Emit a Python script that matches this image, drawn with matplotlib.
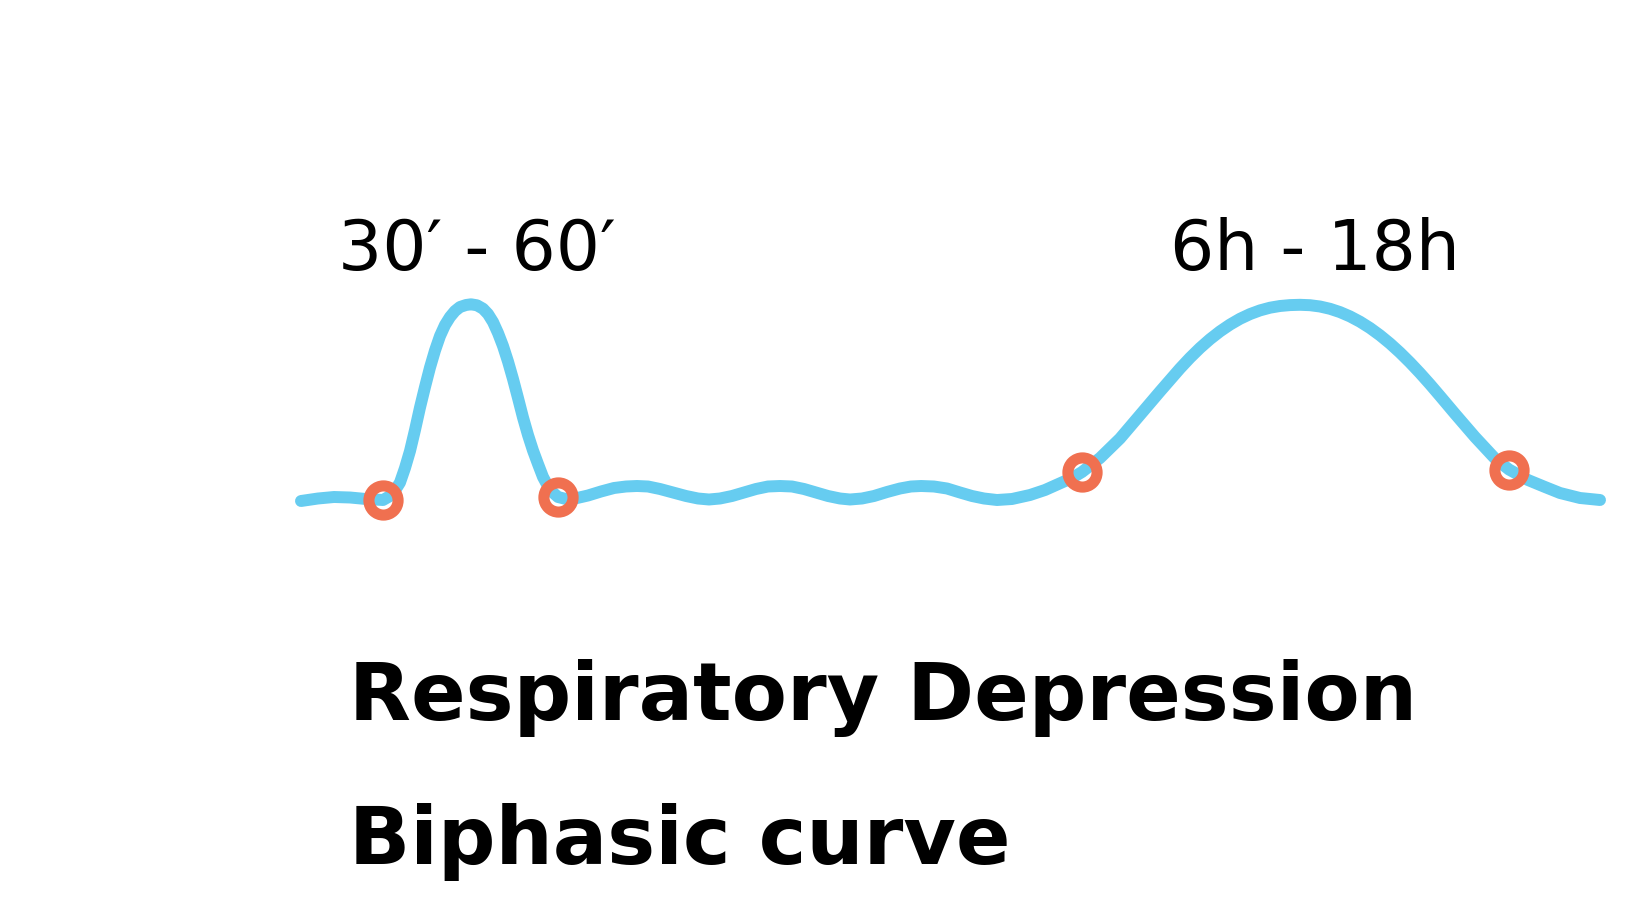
import matplotlib
matplotlib.use("Agg")
import matplotlib.pyplot as plt

# schematic time axis (arbitrary units) and effect level
time = [0.1, 1.8, 3.4, 5.0, 6.6, 8.3, 9.0, 9.5, 10.0, 10.5, 11.0,
        11.5, 12.0, 12.5, 13.0, 13.5, 14.0, 14.5, 15.0, 15.5, 16.0,
        16.6, 17.1, 17.7, 18.3, 18.8, 19.3, 19.8, 20.3, 20.8, 21.3,
        21.8, 22.3, 22.8, 23.3, 23.8, 24.3, 25.0, 25.8, 26.6, 27.5,
        28.8, 30.1, 31.4, 32.6, 33.7, 34.8, 36.0, 37.3, 38.6, 39.8,
        40.9, 42.0, 43.2, 44.4, 45.6, 46.8, 48.0, 49.2, 50.4, 51.6,
        52.8, 54.0, 55.0, 56.2, 57.4, 58.7, 60.0, 61.1, 62.1, 63.4,
        64.7, 66.0, 67.2, 68.4, 69.7, 71.2, 73.0, 74.5, 76.0, 77.2,
        78.2, 80.0, 82.0, 84.0, 86.0, 87.0, 88.0, 89.0, 90.0, 91.0,
        92.0, 93.0, 94.0, 95.0, 96.0, 97.0, 98.0, 99.0, 100.0, 101.0,
        102.0, 103.0, 104.0, 105.0, 106.0, 107.0, 108.0, 109.0, 110.0, 111.0,
        112.0, 113.0, 114.0, 115.5, 117.5, 119.5, 120.9, 122.8, 124.5, 126.0,
        128.0, 130.0]
level = [-0.1, 0.15, 0.3, 0.25, 0.1, 0.0, 0.4, 0.95, 1.75, 3.2, 4.9,
         7.0, 9.25, 11.3, 13.25, 14.95, 16.4, 17.5, 18.3, 18.9, 19.3,
         19.5, 19.57, 19.47, 19.13, 18.6, 17.8, 16.7, 15.4, 13.85, 12.1,
         10.2, 8.25, 6.5, 4.95, 3.6, 2.3, 1.0, 0.3, 0.1, 0.15,
         0.45, 0.85, 1.2, 1.35, 1.4, 1.35, 1.1, 0.75, 0.4, 0.15,
         0.05, 0.15, 0.4, 0.75, 1.1, 1.35, 1.4, 1.35, 1.1, 0.75,
         0.4, 0.15, 0.05, 0.15, 0.4, 0.8, 1.15, 1.35, 1.4, 1.35,
         1.15, 0.75, 0.4, 0.15, 0.0, 0.1, 0.5, 1.0, 1.67, 2.2,
         2.8, 4.2, 6.15, 8.5, 10.85, 12.0, 13.15, 14.22, 15.2, 16.08,
         16.86, 17.54, 18.12, 18.59, 18.96, 19.23, 19.4, 19.49, 19.52, 19.48,
         19.35, 19.12, 18.79, 18.36, 17.83, 17.2, 16.47, 15.65, 14.74, 13.75,
         12.69, 11.57, 10.4, 8.62, 6.3, 4.15, 3.05, 2.0, 1.3, 0.7,
         0.2, 0.0]

# onset / offset points of the two phases
mark_time = [8.3, 25.8, 78.2, 120.9]
mark_level = [0.0, 0.3, 2.8, 3.05]

phase_labels = ["30\u2032 - 60\u2032", "6h - 18h"]
titles = ["Respiratory Depression", "Biphasic curve"]

fig = plt.figure(figsize=(16.43, 9.08), dpi=100)
ax = fig.add_axes([0, 0, 1, 1])

ax.plot(time, level, color="#66CCF0", linewidth=8.6,
        solid_capstyle="round", solid_joinstyle="round", zorder=2)
ax.plot(mark_time, mark_level, "o", markersize=21, markerfacecolor="none",
        markeredgecolor="#F07050", markeredgewidth=8, zorder=3)

ax.set_xlim(-30, 134.3)
ax.set_ylim(-40.8, 50)
ax.axis("off")

fig.text(0.29, 0.7026, phase_labels[0], fontsize=50, color="black",
         va="baseline", ha="center")
fig.text(0.8004, 0.7026, phase_labels[1], fontsize=50, color="black",
         va="baseline", ha="center")

fig.text(0.2124, 0.207, titles[0], fontsize=58, fontweight="bold",
         color="black", va="baseline", ha="left")
fig.text(0.2124, 0.0485, titles[1], fontsize=58, fontweight="bold",
         color="black", va="baseline", ha="left")

fig.savefig("out.png", dpi=100, facecolor="white")
